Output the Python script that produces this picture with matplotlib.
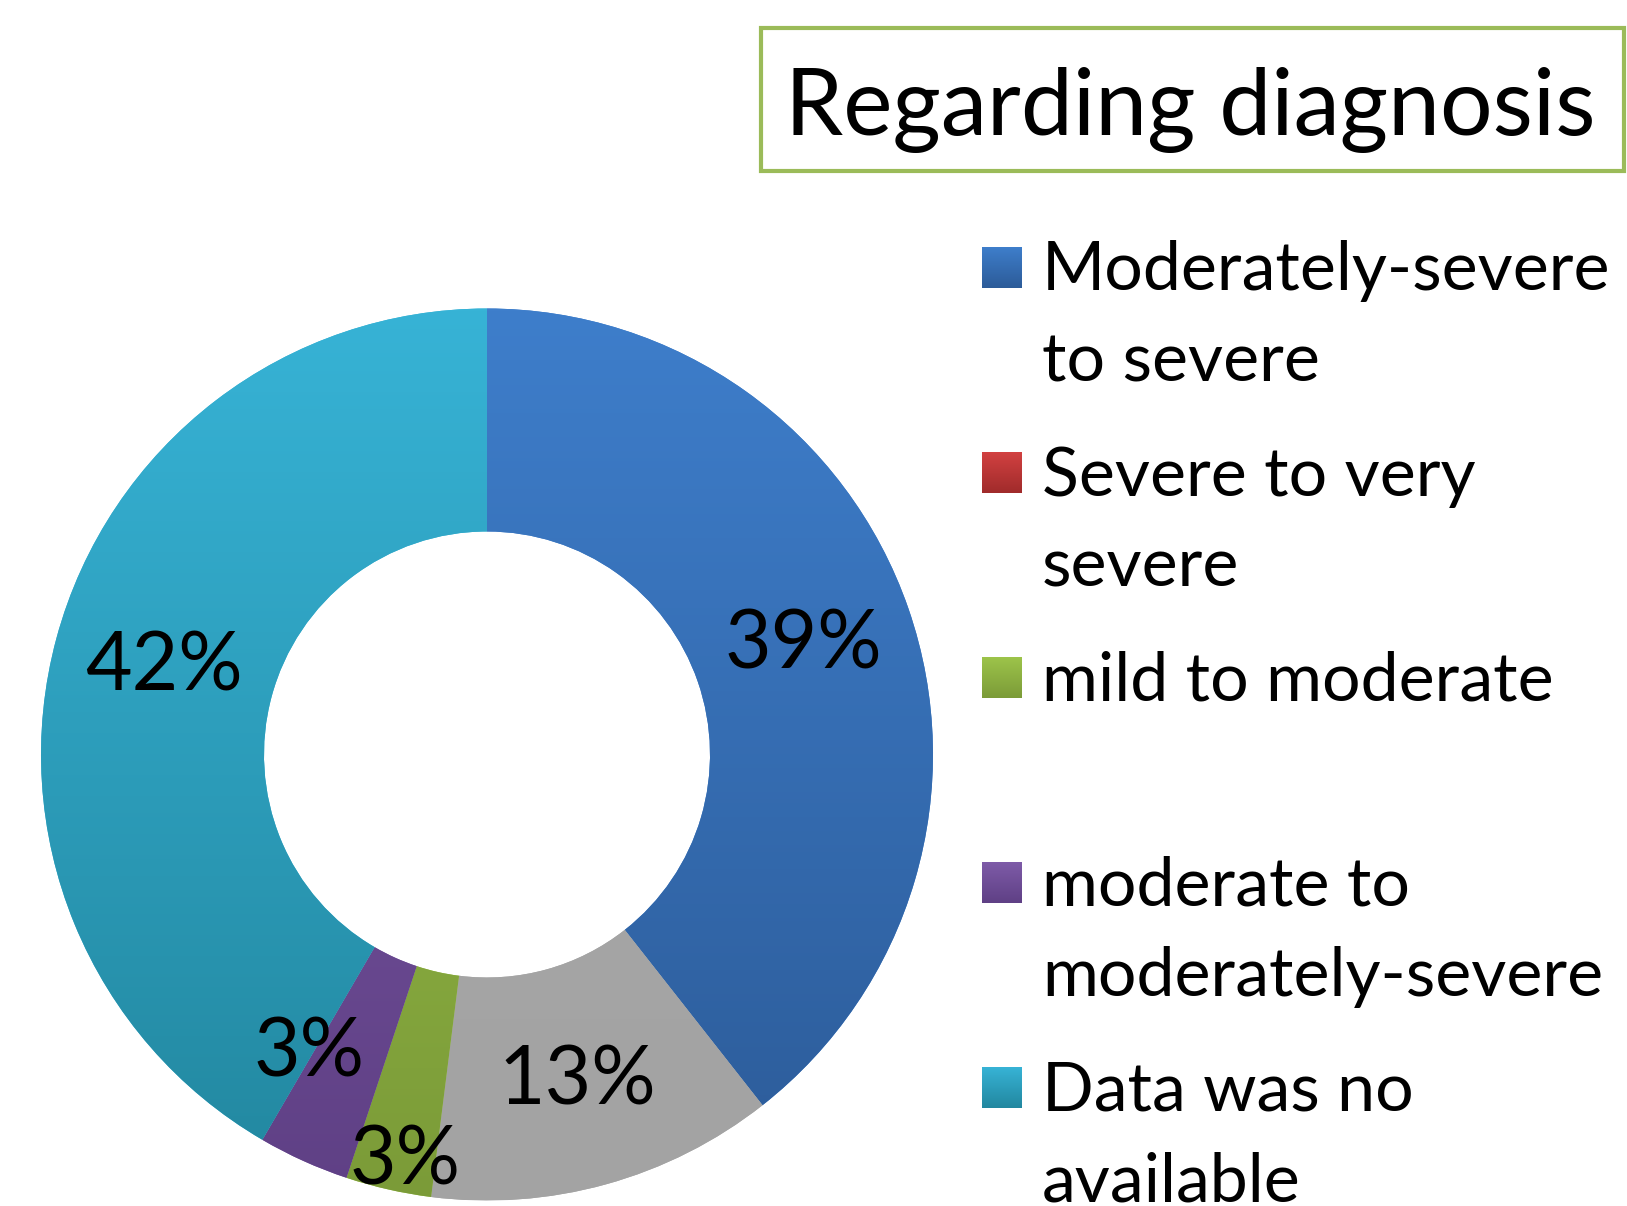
import matplotlib
matplotlib.use("Agg")
import matplotlib.pyplot as plt
import numpy as np
from matplotlib.colors import LinearSegmentedColormap
from matplotlib.patches import Rectangle

# slices, clockwise from 12 o'clock
slice_values = [39.4, 12.6, 3.1, 3.3, 41.6]
slice_labels = ["39%", "13%", "3%", "3%", "42%"]
slice_top = ["#3e7ecb", "#a8a8a8", "#9dc44a", "#7e5ba8", "#37b3d6"]
slice_bot = ["#2c5b98", "#a3a3a3", "#7b9b38", "#5f4085", "#22879f"]

legend_labels = ["Moderately-severe\nto severe", "Severe to very\nsevere",
                 "mild to moderate", "moderate to\nmoderately-severe",
                 "Data was no\navailable"]
legend_top = ["#3e7ecb", "#d24141", "#9dc44a", "#7e5ba8", "#37b3d6"]
legend_bot = ["#2c5b98", "#a02b2b", "#7b9b38", "#5f4085", "#22879f"]

TITLE = "Regarding diagnosis"

W, H = 1627, 1206
fig = plt.figure(figsize=(W / 100, H / 100), dpi=100)
ax = fig.add_axes([0, 0, 1, 1])

cx, cy, R = 487, H - 754.5, 446
wedges, _ = ax.pie(slice_values, startangle=90, counterclock=False,
                   radius=R, center=(cx, cy),
                   wedgeprops=dict(width=R / 2, linewidth=0))

# vertical gradient (light top -> dark bottom) clipped to each wedge
grad = np.linspace(0, 1, 256).reshape(-1, 1)
for w, c0, c1 in zip(wedges, slice_bot, slice_top):
    cmap = LinearSegmentedColormap.from_list("g", [c0, c1])
    w.set_facecolor(c1)
    im = ax.imshow(grad, extent=[cx - R, cx + R, cy - R, cy + R],
                   cmap=cmap, origin="lower", aspect="auto", zorder=2)
    im.set_clip_path(w)

# percent labels at mid-ring, the two small ones nudged like the original
lab_r = [0.75, 0.76, 0.93, 0.78, 0.75]
lab_da = [0, 0, 1.4, -6.5, 0]
for w, txt, rf, da in zip(wedges, slice_labels, lab_r, lab_da):
    ang = np.deg2rad((w.theta1 + w.theta2) / 2 + da)
    ax.text(cx + rf * R * np.cos(ang), cy + rf * R * np.sin(ang), txt,
            ha="center", va="center", fontsize=58, family="Lato",
            color="black", zorder=5)

# title box
ax.add_patch(Rectangle((761, H - 171), 863, 143, fill=False,
                       edgecolor="#9bbb59", linewidth=3, zorder=4))
ax.text(785, H - 135, TITLE, ha="left", va="baseline", fontsize=67,
        family="Lato", zorder=5)

# legend
base0, step, lstep = 290.5, 205, 91
for i, (lab, c0, c1) in enumerate(zip(legend_labels, legend_bot, legend_top)):
    b = base0 + i * step
    sq = Rectangle((982, H - b + 2.5), 40, 41, linewidth=0, facecolor=c1, zorder=3)
    ax.add_patch(sq)
    cmap = LinearSegmentedColormap.from_list("g", [c0, c1])
    im = ax.imshow(grad, extent=[982, 1022, H - b + 2.5, H - b + 43.5],
                   cmap=cmap, origin="lower", aspect="auto", zorder=3)
    im.set_clip_path(sq)
    for k, line in enumerate(lab.split("\n")):
        ax.text(1042, H - b - k * lstep, line, ha="left", va="baseline",
                fontsize=49, family="Lato", zorder=5)

ax.set_xlim(0, W)
ax.set_ylim(0, H)
ax.set_aspect("equal")
ax.axis("off")
fig.savefig("out.png", dpi=100)
